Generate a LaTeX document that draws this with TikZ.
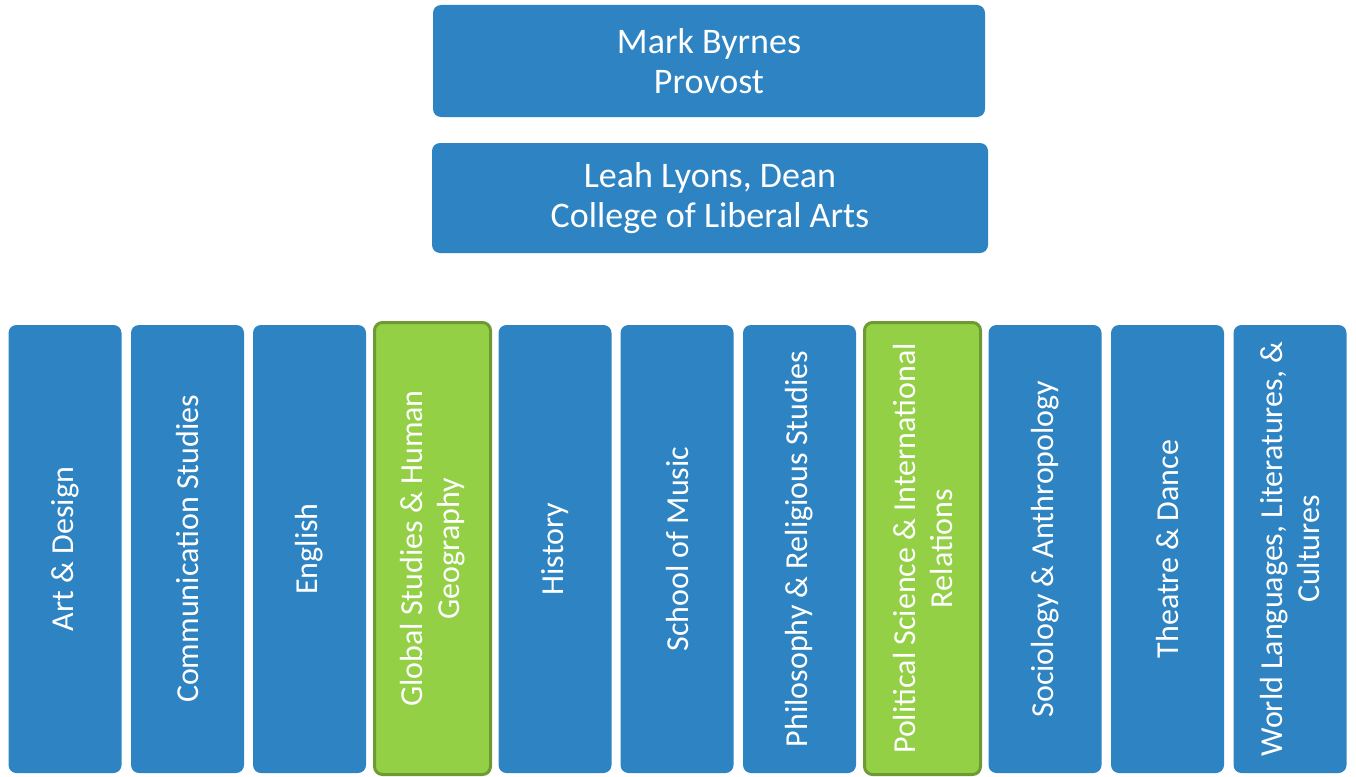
\documentclass[tikz,border=0pt]{standalone}
\usepackage{fontspec}
\setmainfont{Carlito}
\usepackage{tikz}

\definecolor{boxblue}{HTML}{2E83C3}
\definecolor{boxgreen}{HTML}{93D045}
\definecolor{greenline}{HTML}{6E9A34}

\tikzset{
  headbox/.style={rectangle, rounded corners=8pt, fill=boxblue, text=white,
    minimum width=552pt, minimum height=112pt, inner sep=0pt, align=center,
    font=\fontsize{36}{40}\selectfont},
  deptbox/.style={rectangle, rounded corners=8pt, fill=boxblue, text=white,
    rotate=90, minimum width=448pt, minimum height=113pt, inner sep=0pt,
    align=center, font=\fontsize{32}{37}\selectfont},
  hilite/.style={deptbox, fill=boxgreen, draw=greenline, line width=3pt,
    minimum width=452pt, minimum height=116pt}
}

\begin{document}
\begin{tikzpicture}[x=1pt, y=-1pt]
	
	\useasboundingbox (0, 0) rectangle (1356, 776);
	
	\node[headbox] (provost) at (709, 61)     {Mark Byrnes\\Provost};
	\node[headbox, minimum width=556pt, minimum height=110pt] (dean) at (710, 198)     {Leah Lyons, Dean\\College of Liberal Arts};
	
	\node[deptbox] (art)   at (65, 549)      {Art \& Design};
	\node[deptbox] (comm)  at (187.5, 549)   {Communication Studies};
	\node[deptbox] (engl)  at (309.5, 549)   {English};
	\node[hilite]  (glob)  at (432.5, 548.5) {Global Studies \& Human\\Geography};
	\node[deptbox] (hist)  at (555, 549)     {History};
	\node[deptbox] (music) at (677, 549)     {School of Music};
	\node[deptbox] (phil)  at (799.5, 549)   {Philosophy \& Religious Studies};
	\node[hilite]  (poli)  at (922.5, 548.5) {Political Science \& International\\Relations};
	\node[deptbox] (soc)   at (1045, 549)    {Sociology \& Anthropology};
	\node[deptbox] (thea)  at (1167.5, 549)  {Theatre \& Dance};
	\node[deptbox] (world) at (1290, 549)    {World Languages, Literatures, \&\\Cultures};
	
	\end{tikzpicture}
\end{document}
